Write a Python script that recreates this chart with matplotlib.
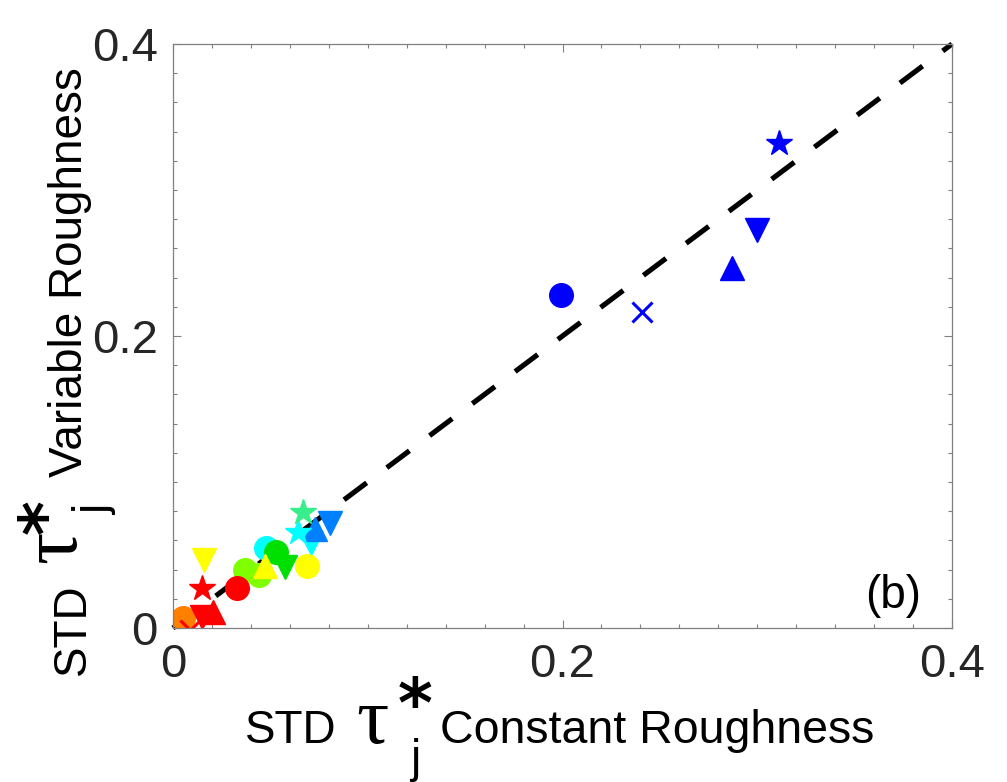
import numpy as np
import matplotlib
matplotlib.use("Agg")
import matplotlib.pyplot as plt
from matplotlib.ticker import MultipleLocator

# ---- data ----
# STD tau*_j for constant roughness (x) vs variable roughness (y)
group = ["blue", "blue", "blue", "blue", "blue",
         "chartreuse", "chartreuse", "cyan", "lime", "cyan", "lime",
         "yellow", "yellow", "dodger", "dodger", "cyan", "mint",
         "orange", "orange", "yellow", "red", "red", "red", "red", "red"]
shape = ["o", "x", "^", "v", "*",
         "o", "o", "o", "o", "v", "v",
         "^", "o", "^", "v", "*", "*",
         "x", "o", "v", "o", "*", "v", "^", "x"]
x_const = [0.199, 0.241, 0.287, 0.300, 0.311,
           0.037, 0.044, 0.048, 0.053, 0.071, 0.0575,
           0.047, 0.0686, 0.073, 0.0806, 0.064, 0.0666,
           0.004, 0.0053, 0.0161, 0.0327, 0.0147, 0.0147, 0.0207, 0.0087]
y_var = [0.228, 0.2166, 0.2464, 0.2726, 0.3324,
         0.040, 0.0363, 0.0546, 0.0523, 0.058, 0.0416,
         0.0425, 0.0425, 0.068, 0.0717, 0.066, 0.0797,
         0.001, 0.0066, 0.0466, 0.0272, 0.0272, 0.0078, 0.0112, -0.0014]

palette = {"blue": "#0000FF", "dodger": "#0080FF", "cyan": "#00FFFF",
           "mint": "#38EE8C", "lime": "#00E000", "chartreuse": "#80FF00",
           "yellow": "#FFFF00", "orange": "#FF8000", "red": "#FF0000"}

W, H = 1007, 782
fig = plt.figure(figsize=(W / 100, H / 100), dpi=100)
ax = fig.add_axes([173 / W, 1 - 628 / H, (952 - 173) / W, (628 - 44) / H])

# 1:1 line
ax.plot([0, 0.4], [0, 0.4], color="black", lw=3.7, ls=(0, (5.5, 4.9)),
        zorder=1, clip_on=False)

for xi, yi, g, m in zip(x_const, y_var, group, shape):
    c = palette[g]
    if m == "x":
        ax.plot(xi, yi, marker="x", ms=15, mew=2.2, color=c, ls="none", zorder=2)
    else:
        ms = 19 if m == "*" else 17
        ax.plot(xi, yi, marker=m, ms=ms, mfc=c, mec=c, ls="none", zorder=2)

ax.set_xlim(0, 0.4)
ax.set_ylim(0, 0.4)
ax.xaxis.set_major_locator(MultipleLocator(0.2))
ax.yaxis.set_major_locator(MultipleLocator(0.2))
ax.xaxis.set_minor_locator(MultipleLocator(0.02))
ax.yaxis.set_minor_locator(MultipleLocator(0.02))
ax.xaxis.set_major_formatter(plt.FuncFormatter(lambda v, p: "0" if v == 0 else f"{v:g}"))
ax.yaxis.set_major_formatter(plt.FuncFormatter(lambda v, p: "0" if v == 0 else f"{v:g}"))
ax.tick_params(which="both", direction="in", top=True, right=True,
               color="#808080", width=0.8)
ax.tick_params(which="major", length=5.5, labelsize=34, labelcolor="#262626")
ax.tick_params(which="minor", length=2.6)
ax.tick_params(axis="x", which="major", pad=11)
ax.tick_params(axis="y", which="major", pad=11)
for lab in ax.get_xticklabels() + ax.get_yticklabels():
    lab.set_family("Liberation Sans")
for s in ax.spines.values():
    s.set_color("#808080")
    s.set_linewidth(0.9)


def ptext(px, py, s, **kw):
    kw.setdefault("family", "Liberation Sans")
    return fig.text(px / W, 1 - py / H, s, **kw)


# x label pieces
ptext(245, 743, "STD", fontsize=33, ha="left", va="baseline")
ptext(356, 743, "τ", fontsize=58, family="Liberation Serif", ha="left", va="baseline")
ptext(415, 727, "*", fontsize=48, family="DejaVu Sans", weight="bold", ha="center", va="baseline")
ptext(415, 772, "j", fontsize=33, ha="center", va="baseline")
ptext(440, 743, "Constant Roughness", fontsize=33.5, ha="left", va="baseline")

# y label pieces (rotated)
rot = dict(rotation=90, rotation_mode="anchor")
ptext(85, 675, "STD", fontsize=33, ha="left", va="baseline", **rot)
ptext(75, 563, "τ", fontsize=58, family="Liberation Serif", ha="left", va="baseline", **rot)
ptext(68, 517, "*", fontsize=48, family="DejaVu Sans", weight="bold", ha="center", va="baseline", **rot)
ptext(107, 510, "j", fontsize=33, ha="center", va="baseline", **rot)
ptext(82, 477, "Variable Roughness", fontsize=33, ha="left", va="baseline", **rot)

# panel tag
ptext(865, 608, "(b)", fontsize=33, ha="left", va="baseline")

fig.savefig("out.png", dpi=100)
